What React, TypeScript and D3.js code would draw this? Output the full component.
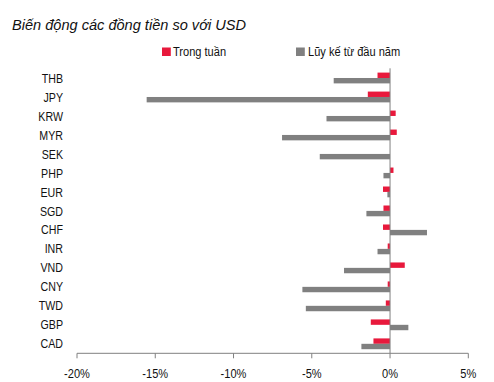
import React from "react";
import * as d3 from "d3";

const categories = ["THB","JPY","KRW","MYR","SEK","PHP","EUR","SGD","CHF","INR","VND","CNY","TWD","GBP","CAD"];
const weekly = [-0.8,-1.42,0.36,0.43,0,0.22,-0.45,-0.42,-0.45,-0.15,0.94,-0.15,-0.27,-1.23,-1.06];
const ytd = [-3.6,-15.55,-4.06,-6.9,-4.49,-0.42,-0.17,-1.51,2.36,-0.8,-2.94,-5.6,-5.38,1.17,-1.83];
const ticks = [-20,-15,-10,-5,0,5];
const seriesNames = ["Trong tuần","Lũy kế từ đầu năm"];
const colors = ["#E8193C","#808080"];

const FONT = "'Liberation Sans', Arial, sans-serif";
const SX = 0.82;

function N({ x, y, size, anchor = "start", children, italic = false }: any) {
  return (
    <text transform={`translate(${x},${y}) scale(${SX},1)`} fontSize={size} textAnchor={anchor}
      fill="#111" fontStyle={italic ? "italic" : "normal"}>{children}</text>
  );
}

export default function App() {
  const W = 494, H = 382;
  const x = d3.scaleLinear().domain([-20, 5]).range([77, 468.3]);
  const y = d3.scaleBand().domain(categories).range([68.5, 353.3]).paddingInner(0).paddingOuter(0);
  const bh = 5.4;
  const axisY = 353.3;
  return (
    <svg width={W} height={H} style={{position:"absolute",left:0,top:0,background:"#fff"}} fontFamily={FONT}>
      <text x={12} y={30} fontSize={15.5} fontStyle="italic" fill="#111" textLength={234} lengthAdjust="spacingAndGlyphs">Biến động các đồng tiền so với USD</text>
      <rect x={162} y={47.5} width={8.8} height={8.5} fill={colors[0]} />
      <N x={173} y={56} size={13.5}>{seriesNames[0]}</N>
      <rect x={296} y={47.5} width={8.8} height={8.5} fill={colors[1]} />
      <N x={308} y={56} size={13.5}>{seriesNames[1]}</N>
      {categories.map((c, i) => {
        const cy = y(c)! + y.bandwidth() / 2;
        const w = weekly[i], t = ytd[i];
        return (
          <g key={c}>
            <N x={63} y={cy + 4.6} size={13} anchor="end">{c}</N>
            {w !== 0 && <rect x={Math.min(x(0), x(w))} y={cy - bh} width={Math.abs(x(w) - x(0))} height={bh} fill={colors[0]} />}
            <rect x={Math.min(x(0), x(t))} y={cy} width={Math.abs(x(t) - x(0))} height={bh} fill={colors[1]} />
          </g>
        );
      })}
      <line x1={x(0)} x2={x(0)} y1={68.3} y2={axisY} stroke="#808080" strokeWidth={1} />
      <line x1={x(-20)} x2={x(5)} y1={axisY} y2={axisY} stroke="#808080" strokeWidth={1} />
      {ticks.map(t => (
        <g key={t}>
          <line x1={x(t)} x2={x(t)} y1={axisY} y2={axisY + 5} stroke="#808080" strokeWidth={1} />
          <N x={x(t)} y={378} size={13.5} anchor="middle">{t + "%"}</N>
        </g>
      ))}
    </svg>
  );
}
